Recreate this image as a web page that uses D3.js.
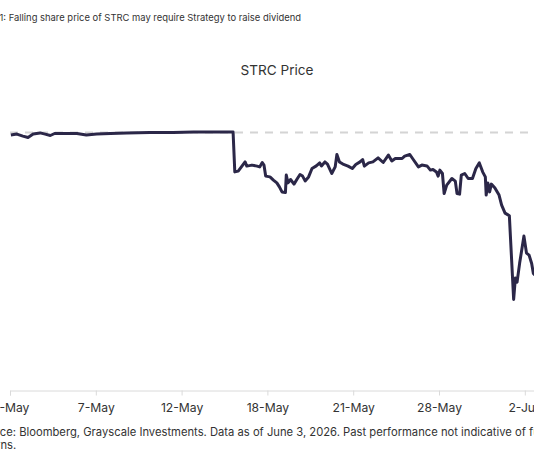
<!DOCTYPE html>
<html>
<head>
<meta charset="utf-8">
<script src="https://cdn.jsdelivr.net/npm/d3@7"></script>
<style>
  html, body { margin: 0; padding: 0; background: #fff; overflow: hidden; }
  svg { display: block; font-family: Inter, "Noto Sans", sans-serif; }
</style>
</head>
<body>
<div id="chart"></div>
<script>
const width = 534;
const height = 462;

// x position in tick units (0 = first date label), price in $
const times = [
  0.01, 0.08, 0.15, 0.21, 0.27, 0.35, 0.41, 0.47, 0.52, 0.66, 0.78, 0.89, 1.01, 1.17, 1.36, 1.63, 1.90, 2.14, 2.21, 2.60,
  2.62, 2.66, 2.74, 2.76, 2.82, 2.88, 2.91, 2.94, 2.96, 2.98, 3.03, 3.07, 3.11, 3.14, 3.17, 3.21, 3.22, 3.24, 3.27, 3.31,
  3.35, 3.38, 3.41, 3.44, 3.48, 3.52, 3.57, 3.61, 3.63, 3.67, 3.70, 3.75, 3.79, 3.81, 3.84, 3.88, 3.94, 3.99, 4.03, 4.08,
  4.11, 4.13, 4.18, 4.23, 4.29, 4.35, 4.41, 4.45, 4.49, 4.57, 4.60, 4.66, 4.70, 4.76, 4.80, 4.86, 4.90, 4.93, 4.97, 4.99,
  5.01, 5.04, 5.06, 5.09, 5.15, 5.19, 5.21, 5.24, 5.26, 5.30, 5.34, 5.39, 5.43, 5.47, 5.51, 5.54, 5.55, 5.57, 5.59, 5.61,
  5.65, 5.70, 5.73, 5.77, 5.82, 5.87, 5.89, 5.91, 5.94, 5.99, 6.02, 6.05, 6.08, 6.10, 6.18
];
const prices = [
  99.87, 99.92, 99.82, 99.75, 99.92, 99.98, 99.92, 99.85, 99.95, 99.95, 99.95, 99.87, 99.92, 99.95, 99.98, 100.00, 100.00, 100.03, 100.02, 100.03,
  98.03, 98.07, 98.53, 98.32, 98.37, 98.32, 98.28, 98.50, 98.37, 97.82, 97.78, 97.62, 97.48, 97.28, 97.03, 97.00, 97.87, 97.48, 97.65, 97.42,
  97.70, 97.90, 97.82, 97.58, 97.78, 98.20, 98.33, 98.48, 98.33, 98.53, 98.42, 97.95, 98.28, 98.90, 98.53, 98.42, 98.32, 98.20, 98.40, 98.53,
  98.65, 98.32, 98.48, 98.53, 98.73, 98.50, 98.87, 98.58, 98.70, 98.70, 98.82, 98.90, 98.65, 98.28, 98.37, 98.33, 98.12, 98.15, 98.03, 97.82,
  98.12, 97.95, 96.95, 97.37, 97.70, 97.57, 96.95, 96.92, 97.87, 97.95, 97.70, 97.70, 98.20, 98.48, 98.02, 97.78, 96.87, 97.47, 97.03, 97.42,
  97.24, 96.87, 96.37, 95.97, 95.84, 91.65, 92.72, 92.52, 93.47, 94.82, 93.97, 93.87, 93.45, 92.95, 92.62
];
const tickLabels = ["4-May", "7-May", "12-May", "18-May", "21-May", "28-May", "2-Jun"];
const parValue = 100;

const subtitlePrefix = "Exhibit 1: ";
const subtitleBody = "Falling share price of STRC may require Strategy to raise dividend";
const sourceLine1 = "Source: Bloomberg, Grayscale Investments. Data as of June 3, 2026. Past performance not indicative of future";
const sourceLine2 = "returns.";

const data = times.map((t, i) => ({ t, p: prices[i] }));

const svg = d3.select('#chart').append('svg')
  .attr('width', width)
  .attr('height', height);

const x = d3.scaleLinear().domain([0, 6.5]).range([10, 10 + 6.5 * 85.8]);
const y = d3.scaleLinear().domain([87.1, 101]).range([390.5, 112.5]);

function textWidth(str, size) {
  const t = svg.append('text').attr('font-size', size).text(str);
  const w = t.node().getComputedTextLength();
  t.remove();
  return w;
}
// font size that gives a string the width seen in the picture
function fitSize(str, target) {
  return 20 * target / textWidth(str, 20);
}

const subSize = fitSize(subtitleBody, 293);
svg.append('text')
  .attr('x', 6 - textWidth(subtitlePrefix, subSize))
  .attr('y', 21)
  .attr('font-size', subSize)
  .attr('fill', '#333')
  .text(subtitlePrefix + subtitleBody);

svg.append('text')
  .attr('x', 277)
  .attr('y', 75)
  .attr('text-anchor', 'middle')
  .attr('font-size', fitSize('STRC Price', 73))
  .attr('fill', '#333')
  .text('STRC Price');

// par reference line
svg.append('line')
  .attr('x1', x(0))
  .attr('x2', width)
  .attr('y1', y(parValue))
  .attr('y2', y(parValue))
  .attr('stroke', '#d4d4d4')
  .attr('stroke-width', 2)
  .attr('stroke-dasharray', '8,7');

const tickSize = fitSize('28-May', 45);
const xAxis = d3.axisBottom(x)
  .tickValues(d3.range(tickLabels.length))
  .tickFormat(i => tickLabels[i])
  .tickSizeOuter(0)
  .tickSize(5)
  .tickPadding(8);

const gx = svg.append('g')
  .attr('transform', `translate(0, ${y.range()[0]})`)
  .call(xAxis);

gx.select('.domain').attr('stroke', '#dadada');
gx.selectAll('.tick line').attr('stroke', '#dadada');
gx.selectAll('.tick text')
  .attr('font-size', tickSize)
  .attr('fill', '#333')
  .attr('font-family', 'Inter, "Noto Sans", sans-serif');

const line = d3.line()
  .x(d => x(d.t))
  .y(d => y(d.p));

svg.append('path')
  .datum(data)
  .attr('d', line)
  .attr('fill', 'none')
  .attr('stroke', '#2b2748')
  .attr('stroke-width', 3)
  .attr('stroke-linejoin', 'round');

// "ce: ... of " is what shows from x = 0 to the "f" at about x = 527
const srcSize = fitSize('ce: Bloomberg, Grayscale Investments. Data as of June 3, 2026. Past performance not indicative of ', 527);
const srcX = 0 - textWidth('Sour', srcSize);
svg.append('text')
  .attr('x', srcX)
  .attr('y', 436)
  .attr('font-size', srcSize)
  .attr('fill', '#333')
  .text(sourceLine1);

svg.append('text')
  .attr('x', srcX)
  .attr('y', 448.5)
  .attr('font-size', srcSize)
  .attr('fill', '#333')
  .text(sourceLine2);
</script>
</body>
</html>
